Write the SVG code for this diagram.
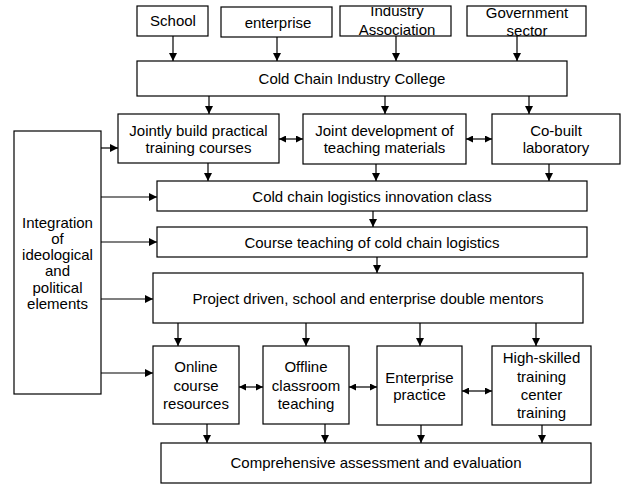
<svg xmlns="http://www.w3.org/2000/svg" width="624" height="485" viewBox="0 0 624 485">
<style>
rect.b{fill:none;stroke:#000;stroke-width:1.2}
text{font-family:"Liberation Sans",Arial,sans-serif;font-size:15px;fill:#000;text-anchor:middle}
.c line{stroke:#000;stroke-width:1.2}
</style>
<defs>
<marker id="a" viewBox="0 0 10 10" refX="10" refY="5" markerWidth="8" markerHeight="8" markerUnits="userSpaceOnUse" orient="auto"><path d="M0,0L10,5L0,10z" fill="#000"/></marker>
<marker id="s" viewBox="0 0 10 10" refX="10" refY="5" markerWidth="7" markerHeight="7" markerUnits="userSpaceOnUse" orient="auto-start-reverse"><path d="M0,0L10,5L0,10z" fill="#000"/></marker>
<clipPath id="ic"><rect x="330" y="7" width="130" height="40"/></clipPath>
</defs>
<rect width="624" height="485" fill="#fff"/>
<g id="school"><text x="173" y="26">School</text><rect class="b" x="137" y="6" width="71" height="30"/></g>
<g id="enterprise"><text x="278" y="28">enterprise</text><rect class="b" x="221" y="7" width="111" height="30"/></g>
<g id="industry"><g clip-path="url(#ic)"><text x="397" y="16">Industry</text><text x="397" y="35">Association</text></g><rect class="b" x="340" y="6" width="111" height="30"/></g>
<g id="government"><text x="527" y="18">Government</text><text x="527" y="36">sector</text><rect class="b" x="467" y="6" width="119" height="30"/></g>
<g id="college"><rect class="b" x="137" y="61" width="430" height="35"/><text x="352" y="84">Cold Chain Industry College</text></g>
<g id="jointly"><rect class="b" x="118" y="114" width="161" height="49"/><text x="198.5" y="136">Jointly build practical</text><text x="198.5" y="153">training courses</text></g>
<g id="jointdev"><rect class="b" x="303" y="114" width="163" height="50"/><text x="384.5" y="136">Joint development of</text><text x="384.5" y="153">teaching materials</text></g>
<g id="cobuilt"><rect class="b" x="492" y="114" width="128" height="50"/><text x="556" y="136">Co-built</text><text x="556" y="153">laboratory</text></g>
<g id="integration"><rect class="b" x="14" y="131" width="87" height="263"/>
<text x="57.5" y="228">Integration</text><text x="57.5" y="244">of</text><text x="57.5" y="260">ideological</text><text x="57.5" y="276">and</text><text x="57.5" y="293">political</text><text x="57.5" y="309">elements</text></g>
<g id="innovation"><rect class="b" x="157" y="181" width="430" height="30"/><text x="372" y="202">Cold chain logistics innovation class</text></g>
<g id="course"><rect class="b" x="157" y="227" width="430" height="30"/><text x="372" y="248">Course teaching of cold chain logistics</text></g>
<g id="project"><rect class="b" x="153" y="273" width="430" height="50"/><text x="368" y="304">Project driven, school and enterprise double mentors</text></g>
<g id="online"><rect class="b" x="153" y="346" width="86" height="78"/><text x="196" y="372">Online</text><text x="196" y="391">course</text><text x="196" y="409">resources</text></g>
<g id="offline"><rect class="b" x="263" y="346" width="86" height="78"/><text x="306" y="372">Offline</text><text x="306" y="391">classroom</text><text x="306" y="409">teaching</text></g>
<g id="enterprisepractice"><rect class="b" x="377" y="346" width="85" height="79"/><text x="419.5" y="383">Enterprise</text><text x="419.5" y="400">practice</text></g>
<g id="highskilled"><rect class="b" x="492" y="346" width="99" height="79"/><text x="541.5" y="363">High-skilled</text><text x="541.5" y="382">training</text><text x="541.5" y="400">center</text><text x="541.5" y="418">training</text></g>
<g id="comprehensive"><rect class="b" x="161" y="443" width="430" height="40"/><text x="376" y="468">Comprehensive assessment and evaluation</text></g>
<g class="c" id="connectors">
<line x1="173" y1="36" x2="173" y2="61" marker-end="url(#a)"/>
<line x1="277" y1="37" x2="277" y2="61" marker-end="url(#a)"/>
<line x1="396" y1="36" x2="396" y2="61" marker-end="url(#a)"/>
<line x1="517" y1="36" x2="517" y2="61" marker-end="url(#a)"/>
<line x1="209" y1="96" x2="209" y2="114" marker-end="url(#a)"/>
<line x1="385" y1="96" x2="385" y2="114" marker-end="url(#a)"/>
<line x1="529" y1="96" x2="529" y2="114" marker-end="url(#a)"/>
<line x1="208" y1="163" x2="208" y2="181" marker-end="url(#a)"/>
<line x1="376" y1="164" x2="376" y2="181" marker-end="url(#a)"/>
<line x1="549" y1="164" x2="549" y2="181" marker-end="url(#a)"/>
<line x1="373" y1="211" x2="373" y2="227" marker-end="url(#a)"/>
<line x1="377" y1="257" x2="377" y2="273" marker-end="url(#a)"/>
<line x1="178" y1="323" x2="178" y2="346" marker-end="url(#a)"/>
<line x1="306" y1="323" x2="306" y2="346" marker-end="url(#a)"/>
<line x1="420" y1="323" x2="420" y2="346" marker-end="url(#a)"/>
<line x1="536" y1="323" x2="536" y2="346" marker-end="url(#a)"/>
<line x1="207" y1="424" x2="207" y2="443" marker-end="url(#a)"/>
<line x1="325" y1="424" x2="325" y2="443" marker-end="url(#a)"/>
<line x1="421" y1="425" x2="421" y2="443" marker-end="url(#a)"/>
<line x1="542" y1="425" x2="542" y2="443" marker-end="url(#a)"/>
<line x1="101" y1="148" x2="118" y2="148" marker-end="url(#a)"/>
<line x1="101" y1="197" x2="157" y2="197" marker-end="url(#a)"/>
<line x1="101" y1="242" x2="157" y2="242" marker-end="url(#a)"/>
<line x1="101" y1="299" x2="153" y2="299" marker-end="url(#a)"/>
<line x1="101" y1="373" x2="153" y2="373" marker-end="url(#a)"/>
<line x1="279" y1="139" x2="303" y2="139" marker-start="url(#s)" marker-end="url(#s)"/>
<line x1="466" y1="139" x2="492" y2="139" marker-start="url(#s)" marker-end="url(#s)"/>
<line x1="239" y1="387" x2="263" y2="387" marker-start="url(#s)" marker-end="url(#s)"/>
<line x1="349" y1="387" x2="377" y2="387" marker-start="url(#s)" marker-end="url(#s)"/>
<line x1="462" y1="391" x2="492" y2="391" marker-start="url(#s)" marker-end="url(#s)"/>
</g>
</svg>
